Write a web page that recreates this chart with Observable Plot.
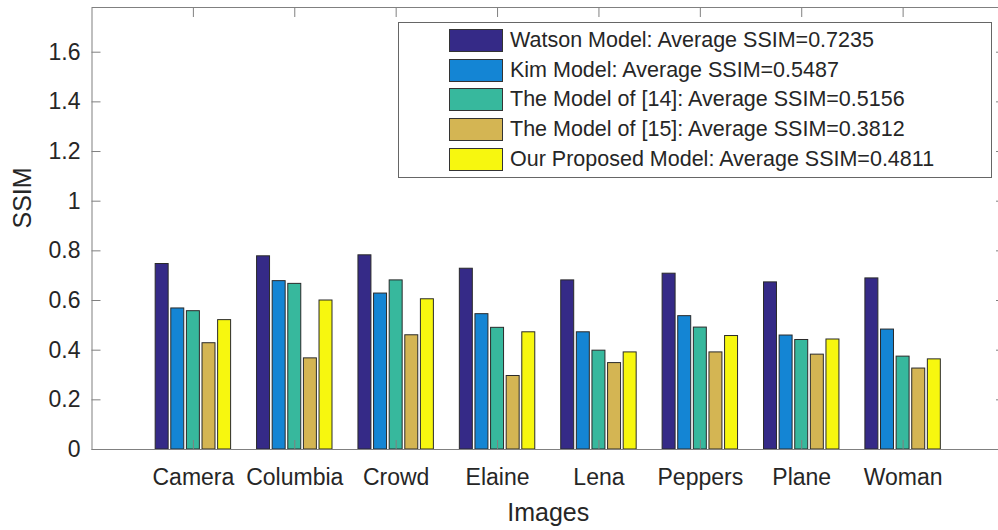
<!DOCTYPE html>
<html><head><meta charset="utf-8">
<script src="https://cdn.jsdelivr.net/npm/d3@7"></script>
<script src="https://cdn.jsdelivr.net/npm/@observablehq/plot@0.6"></script>
<style>
body{margin:0;background:#fff;}
#wrap{position:relative;width:998px;height:530px;overflow:hidden;font-family:"Liberation Sans",Arial,sans-serif;}
#legend{position:absolute;left:398px;top:22px;width:594px;height:156px;border:1px solid #666;background:#fff;box-sizing:border-box;}
.sw{position:absolute;left:50px;width:54px;height:23px;border:1px solid #333;box-sizing:border-box;}
.lt{position:absolute;left:111px;height:23px;line-height:23px;font-size:21.5px;color:#262626;white-space:nowrap;}
</style></head>
<body><div id="wrap"></div>
<script>
const categories = ["Camera","Columbia","Crowd","Elaine","Lena","Peppers","Plane","Woman"];
const seriesLabels = ["Watson Model","Kim Model","The Model of [14]","The Model of [15]","Our Proposed Model"];
const averages = ["0.7235","0.5487","0.5156","0.3812","0.4811"];
const watson   = [0.747,0.778,0.782,0.728,0.681,0.708,0.673,0.689];
const kim      = [0.568,0.678,0.628,0.545,0.472,0.537,0.459,0.483];
const model14  = [0.557,0.667,0.681,0.490,0.398,0.491,0.441,0.374];
const model15  = [0.428,0.367,0.460,0.296,0.348,0.391,0.382,0.326];
const proposed = [0.521,0.600,0.605,0.472,0.391,0.457,0.443,0.363];
const colors = ["#352a87","#1485d4","#37b89d","#d4b553","#f7f70f"];
const yTicks = [0,0.2,0.4,0.6,0.8,1,1.2,1.4,1.6];
const xTicks = [1,2,3,4,5,6,7,8];

const seriesValues = [watson,kim,model14,model15,proposed];
const data = categories.flatMap((c,i) => seriesValues.map((vals,s) => ({cat:c, i, s, series: seriesLabels[s], value: vals[i]})));
const pitch = 0.154, half = 0.064;
const axisColor = "#808080";

const chart = Plot.plot({
  width: 998, height: 530,
  marginLeft: 91.5, marginRight: -6, marginTop: 7, marginBottom: 81,
  style: {fontFamily: "'Liberation Sans', Arial, sans-serif", fontSize: "23px", color: "#262626", background: "transparent"},
  x: {domain: [0, 9]},
  y: {domain: [0, 1.78]},
  color: {domain: seriesLabels, range: colors},
  marks: [
    Plot.rectY(data, {
      x1: d => d.i + 1 + (d.s - 2) * pitch - half,
      x2: d => d.i + 1 + (d.s - 2) * pitch + half,
      y1: 0, y2: "value", fill: "series", stroke: "#2a2a2a", strokeWidth: 1
    }),
    Plot.frame({stroke: axisColor}),
    Plot.axisX(xTicks, {anchor: "bottom", tickSize: -9, fill: "none", stroke: axisColor}),
    Plot.axisX(xTicks, {anchor: "top", tickSize: -9, fill: "none", stroke: axisColor}),
    Plot.axisX(xTicks, {anchor: "bottom", tickSize: 0, tickPadding: 19, tickFormat: i => categories[i - 1], label: null, fill: "#262626"}),
    Plot.axisY(yTicks, {anchor: "left", tickSize: -9, fill: "none", stroke: axisColor}),
    Plot.axisY(yTicks, {anchor: "right", tickSize: -9, fill: "none", stroke: axisColor}),
    Plot.axisY(yTicks, {anchor: "left", tickSize: 0, tickPadding: 11.5, tickFormat: d => String(+d.toFixed(1)), label: null, fill: "#262626"}),
    Plot.text(["Images"], {frameAnchor: "bottom", dy: 71, lineAnchor: "bottom", fontSize: 25, fill: "#262626"}),
    Plot.text(["SSIM"], {frameAnchor: "left", rotate: -90, dx: -78.8, lineAnchor: "top", fontSize: 25, fill: "#262626"})
  ]
});
const wrap = document.getElementById("wrap");
wrap.appendChild(chart);

const legend = document.createElement("div");
legend.id = "legend";
seriesLabels.forEach((name, k) => {
  const top = 6 + k * 29.7;
  const sw = document.createElement("div");
  sw.className = "sw";
  sw.style.top = top + "px";
  sw.style.background = colors[k];
  legend.appendChild(sw);
  const t = document.createElement("div");
  t.className = "lt";
  t.style.top = top + "px";
  t.textContent = `${name}: Average SSIM=${averages[k]}`;
  legend.appendChild(t);
});
wrap.appendChild(legend);
</script>
</body></html>
